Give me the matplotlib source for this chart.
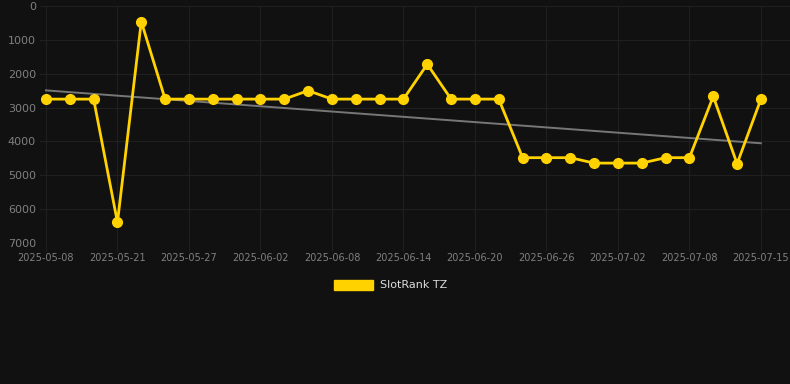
import numpy as np
import matplotlib
matplotlib.use('Agg')
import matplotlib.pyplot as plt
from matplotlib.patches import Patch

# SlotRank TZ rank history (lower number = better rank)
dates = ['2025-05-08', '2025-05-12', '2025-05-17', '2025-05-21', '2025-05-23',
         '2025-05-25', '2025-05-27', '2025-05-29', '2025-05-31', '2025-06-02',
         '2025-06-04', '2025-06-06', '2025-06-08', '2025-06-10', '2025-06-12',
         '2025-06-14', '2025-06-16', '2025-06-18', '2025-06-20', '2025-06-22',
         '2025-06-24', '2025-06-26', '2025-06-28', '2025-06-30', '2025-07-02',
         '2025-07-04', '2025-07-06', '2025-07-08', '2025-07-10', '2025-07-13',
         '2025-07-15']
ranks = [2750, 2750, 2750, 6390, 460, 2750, 2750, 2750, 2750, 2750,
         2750, 2500, 2750, 2750, 2750, 2750, 1720, 2750, 2750, 2750,
         4480, 4480, 4480, 4640, 4640, 4640, 4480, 4480, 2670, 4660,
         2750]
yticks = [0, 1000, 2000, 3000, 4000, 5000, 6000, 7000]
series_name = 'SlotRank TZ'

bg = '#111111'
gold = '#FFD200'

fig = plt.figure(figsize=(7.9, 3.84), dpi=100, facecolor=bg)
ax = fig.add_axes([40 / 790, 141 / 384, 750 / 790, 237 / 384], facecolor=bg)

x = np.arange(len(ranks))
# linear trend
k, b = np.polyfit(x, ranks, 1)
ax.plot(x, k * x + b, color='#777777', lw=1.4, zorder=2)

ax.plot(x, ranks, color=gold, lw=2.0, marker='o', ms=7,
        markerfacecolor=gold, markeredgecolor=gold, zorder=3)

ax.set_ylim(7000, 0)
ax.set_yticks(yticks)
ax.set_xlim(-0.25, 31.22)
ax.set_xticks(x[::3])
ax.set_xticklabels(dates[::3])

ax.grid(True, color='#202020', lw=0.8)
for s in ax.spines.values():
    s.set_visible(False)
ax.tick_params(axis='y', colors='#808080', labelsize=8, length=0, pad=3)
ax.tick_params(axis='x', colors='#808080', labelsize=7, length=6,
               color='#202020', pad=1)

handle = Patch(facecolor=gold, edgecolor=gold)
fig.legend([handle], [series_name], loc='center',
           bbox_to_anchor=(0.5 - 4.5 / 790, 1 - 285 / 384),
           frameon=False, labelcolor='#dddddd', fontsize=8,
           handlelength=3.5, handleheight=1.0, handletextpad=0.6)

fig.savefig('out.png', dpi=100, facecolor=bg)
